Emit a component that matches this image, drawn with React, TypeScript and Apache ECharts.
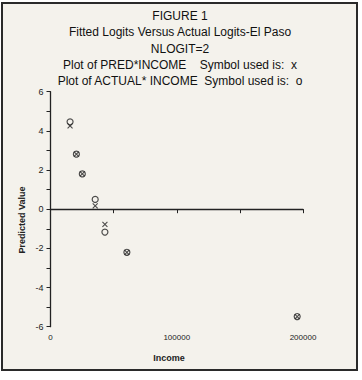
import React, { useEffect, useRef } from "react";
import * as echarts from "echarts";

const titleLines = [
  "FIGURE 1",
  "Fitted Logits Versus Actual Logits-El Paso",
  "NLOGIT=2",
  "Plot of PRED*INCOME    Symbol used is:  x",
  "Plot of ACTUAL* INCOME  Symbol used is:  o",
];
const incomes = [15500, 20500, 25200, 35400, 43100, 60500, 195400];
const actualValues = [4.46, 2.81, 1.8, 0.5, -1.17, -2.2, -5.48];
const predValues = [4.25, 2.81, 1.8, 0.17, -0.77, -2.2, -5.48];
const yTicks = [-6, -4, -2, 0, 2, 4, 6];
const xTicks = [0, 100000, 200000];

const FONT = "'Liberation Sans', Arial, Helvetica, sans-serif";
const INK = "#222";

export default function App() {
  const ref = useRef<HTMLDivElement>(null);
  useEffect(() => {
    if (!ref.current) return;
    const chart = echarts.init(ref.current, null, { renderer: "svg" });
    const actual = incomes.map((x, i) => [x, actualValues[i]]);
    const pred = incomes.map((x, i) => [x, predValues[i]]);
    chart.setOption({
      animation: false,
      backgroundColor: "#ffffff",
      graphic: [
        {
          type: "rect",
          z: -10,
          shape: { x: 2, y: 3, width: 355, height: 367 },
          style: { fill: "#f4f2ec", stroke: "#2a2a2a", lineWidth: 2 },
          silent: true,
        },
        ...titleLines.map((t, i) => ({
          type: "text",
          x: 180,
          y: 16 + i * 16.3,
          style: {
            text: t,
            font: `12px ${FONT}`,
            fill: "#111",
            align: "center",
            verticalAlign: "middle",
          },
        })),
        {
          type: "text",
          x: 169,
          y: 358,
          style: {
            text: "Income",
            font: `bold 9px ${FONT}`,
            fill: INK,
            align: "center",
            verticalAlign: "middle",
          },
        },
        {
          type: "text",
          x: 22,
          y: 220,
          rotation: Math.PI / 2,
          style: {
            text: "Predicted Value",
            font: `bold 9px ${FONT}`,
            fill: INK,
            align: "center",
            verticalAlign: "middle",
          },
        },
      ],
      grid: { left: 50.5, right: 59, top: 91.7, bottom: 53.3, containLabel: false },
      xAxis: {
        type: "value",
        min: xTicks[0],
        max: xTicks[xTicks.length - 1],
        interval: 100000,
        axisLine: { show: true, lineStyle: { color: INK, width: 1.3 } },
        axisTick: { show: true, length: 4, lineStyle: { color: INK } },
        minorTick: { show: true, splitNumber: 2, length: 4, lineStyle: { color: INK } },
        splitLine: { show: false },
        axisLabel: {
          color: INK,
          fontSize: 8,
          fontFamily: FONT,
          margin: 7,
          formatter: (v: number) => String(v),
        },
      },
      yAxis: {
        type: "value",
        min: yTicks[0],
        max: yTicks[yTicks.length - 1],
        interval: 2,
        axisLine: { show: true, lineStyle: { color: INK, width: 1.3 } },
        axisTick: { show: true, length: 4, lineStyle: { color: INK } },
        minorTick: { show: true, splitNumber: 2, length: 4, lineStyle: { color: INK } },
        splitLine: { show: false },
        axisLabel: {
          color: INK,
          fontSize: 9,
          fontFamily: FONT,
          margin: 7,
          formatter: (v: number) => String(v),
        },
      },
      series: [
        {
          name: "ACTUAL",
          type: "scatter",
          data: actual,
          symbol: "circle",
          symbolSize: 6,
          itemStyle: { color: "transparent", borderColor: INK, borderWidth: 1.2 },
        },
        {
          name: "PRED",
          type: "scatter",
          data: pred,
          symbol: "path://M0,0L10,10M10,0L0,10",
          symbolSize: 5,
          itemStyle: { color: "transparent", borderColor: INK, borderWidth: 1.1 },
        },
      ],
    });
    return () => chart.dispose();
  }, []);
  return (
    <div
      ref={ref}
      style={{ position: "absolute", left: 0, top: 0, width: 362, height: 380 }}
    />
  );
}
